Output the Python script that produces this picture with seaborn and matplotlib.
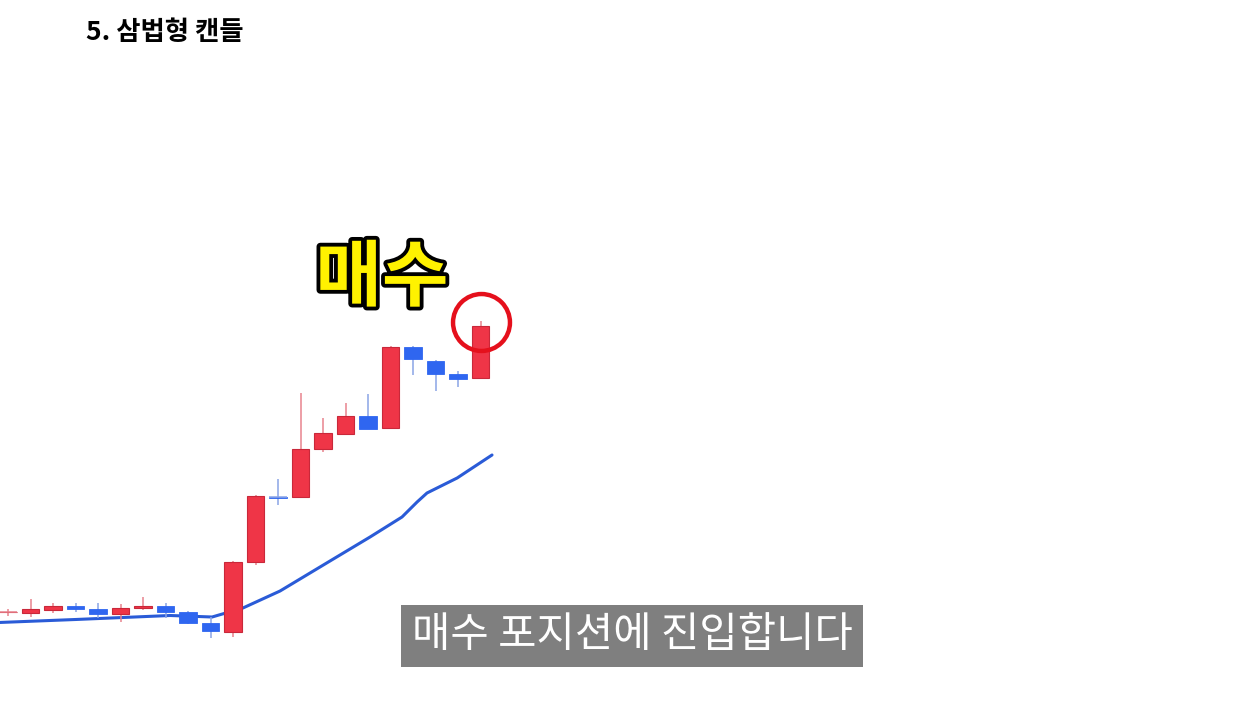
import numpy as np
import pandas as pd
import matplotlib
matplotlib.use("Agg")
import matplotlib.pyplot as plt
import matplotlib.patheffects as pe
import seaborn as sns

# ---- data (price units) ----
opens  = [91.8, 91, 94, 98, 95, 90, 96, 98, 92, 81, 72, 142, 207.5, 207, 255, 270, 288, 276, 357, 343, 330, 326]
closes = [92.2, 95, 98, 95, 90, 96, 98, 92, 81, 73, 142, 208, 206.5, 255, 271, 288, 275, 357, 345, 330, 325, 378]
highs  = [95, 105, 101, 101, 101, 100, 107, 101, 93, 87, 143, 209, 225, 311, 286, 301, 310, 358, 358, 344, 333, 383]
lows   = [88, 87, 91, 92, 86, 82, 94, 86, 80, 66, 67, 139, 199, 206, 252, 270, 275, 275, 329, 313, 317, 326]

ma_x = [-0.4, 3, 7.2, 9.07, 10.44, 12.09, 14.31, 16.09, 17.51, 18.18, 18.62, 19.96, 21.51]
ma_y = [81.5, 84.5, 88.5, 87, 96, 113, 143, 167, 187, 202, 211, 226, 249]

title = "5. 삼법형 캔들"
signal_label = "매수"
caption = "매수 포지션에 진입합니다"

# ---- style ----
sns.set_theme(style="white")
plt.rcParams['font.family'] = ['Noto Sans CJK KR', 'DejaVu Sans']

RED = "#EF3547"
RED_EDGE = "#C9283A"
RED_WICK = "#E8848E"
BLUE = "#2F66F0"
BLUE_WICK = "#8AA4E6"
MA_COLOR = "#2A5BD7"

fig = plt.figure(figsize=(12.6, 7.04), dpi=100)
ax = fig.add_axes([0, 0, 1, 1])
ax.set_xlim(-0.356, 55.64)
ax.set_ylim(0, 704)
ax.axis("off")

df = pd.DataFrame({"open": opens, "close": closes, "high": highs, "low": lows})
df["idx"] = np.arange(len(df))
df["up"] = df["close"] >= df["open"]

# moving average line
ma_df = pd.DataFrame({"x": ma_x, "y": ma_y})
sns.lineplot(data=ma_df, x="x", y="y", ax=ax, color=MA_COLOR, lw=2.2, sort=False, zorder=2)

# wicks
for _, r in df.iterrows():
    ax.vlines(r["idx"], r["low"], r["high"], color=RED_WICK if r["up"] else BLUE_WICK, lw=1.1, zorder=3)

# bodies
w = 0.76
for _, r in df.iterrows():
    lo = min(r["open"], r["close"])
    h = abs(r["close"] - r["open"])
    if r["up"]:
        ax.bar(r["idx"], h, bottom=lo, width=w, color=RED, edgecolor=RED_EDGE, lw=0.8, zorder=4)
    else:
        ax.bar(r["idx"], h, bottom=lo, width=w, color=BLUE, edgecolor=BLUE, lw=0.6, zorder=4)
# dojis: make horizontal bar visible
for _, r in df.iterrows():
    if abs(r["close"] - r["open"]) < 1.5:
        c = RED_WICK if r["up"] else BLUE_WICK
        ax.hlines((r["open"] + r["close"]) / 2, r["idx"] - w / 2, r["idx"] + w / 2, color=c, lw=1.1, zorder=5)

# red circle on the last candle
ax.plot(df["idx"].iloc[-1], df["high"].iloc[-1] - 1, marker="o", ms=41, mfc="none",
        mec="#E5101C", mew=3.2, zorder=6)

# big yellow signal label
fig.text(382 / 1260, 1 - 279 / 704, signal_label, fontsize=52, fontweight="black",
         color="#FFF200", ha="center", va="center",
         path_effects=[pe.Stroke(linewidth=5.5, foreground="black"), pe.Normal()])

# title
fig.text(86 / 1260, 1 - 32 / 704, title, fontsize=19, fontweight="black",
         color="black", ha="left", va="center")

# caption box
fig.text(632 / 1260, 1 - 636 / 704, caption, fontsize=30, color="white",
         ha="center", va="center",
         bbox=dict(boxstyle="square,pad=0.25", facecolor="#7F7F7F", edgecolor="none"))

fig.savefig("out.png", dpi=100, facecolor="white")
